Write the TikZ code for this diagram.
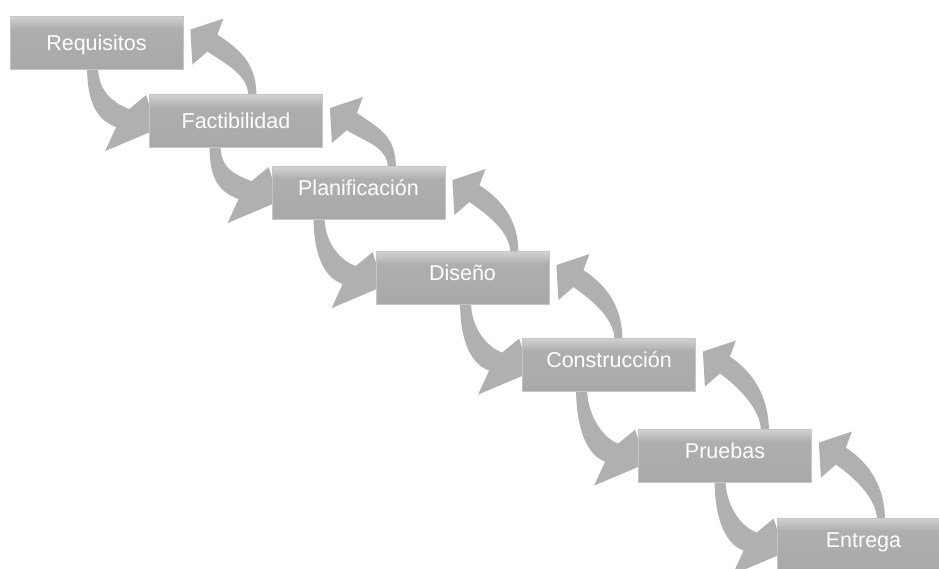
\documentclass[tikz,border=0pt]{standalone}
\usepackage{fontspec}
\setmainfont{Liberation Sans}
\usetikzlibrary{calc}

\pgfdeclarelayer{back}
\pgfsetlayers{back,main}

\definecolor{arrowgray}{HTML}{B0B0B0}
\definecolor{boxtop}{HTML}{D2D2D2}
\definecolor{boxmid}{HTML}{AEAEAE}
\definecolor{boxbot}{HTML}{A9A9A9}
\definecolor{boxline}{HTML}{C6C6C6}

% light band along the top edge of every box
\pgfdeclareverticalshading{boxshade}{100bp}{%
  color(0bp)=(boxbot); color(25bp)=(boxbot); color(63bp)=(boxmid);
  color(75bp)=(boxtop); color(100bp)=(boxtop)}

\tikzset{
  stepbox/.style={draw=boxline, line width=0.8pt, shading=boxshade,
    minimum width=173pt, minimum height=53pt, inner sep=0pt,
    text=white, font=\fontsize{21.5}{24}\selectfont,
    text height=17pt, text depth=2pt},
  lift/.style={text depth=12pt},
  flowarrow/.style={fill=arrowgray, draw=none},
}

% curved arrow from the bottom of #1 to the left side of #2
\newcommand\stepdown[2]{%
  \coordinate (nw) at (#2.north west);
  \coordinate (bt) at (#1.south);
  \fill[flowarrow]
    ($(nw |- bt)+(-62,-2)$) .. controls +(0,30) and +(-22,-8) .. ($(nw)+(-33,33)$)
    -- ($(nw)+(-44,57)$) -- ($(nw)+(8,35)$) -- ($(nw)+(-3,1)$)
    -- ($(nw)+(-20,15)$) .. controls +(-18,-7) and +(0,22) .. ($(nw |- bt)+(-51,-2)$)
    -- cycle;
}

% curved arrow from the top of #2 back to the right side of #1
\newcommand\stepup[2]{%
  \coordinate (ne) at (#1.north east);
  \coordinate (tp) at (#2.north);
  \fill[flowarrow]
    ($(ne |- tp)+(65,2)$) .. controls +(0,-22) and +(16,11) .. ($(ne)+(24,36)$)
    -- ($(ne)+(9,49)$) -- ($(ne)+(7,14)$) -- ($(ne)+(40,3)$)
    -- ($(ne)+(34,19)$) .. controls +(26,17) and +(0,-30) .. ($(ne |- tp)+(73,2)$)
    -- cycle;
}

\begin{document}
\begin{tikzpicture}[x=1pt, y=-1pt]
  \useasboundingbox (0,0) rectangle (939,568);
  \clip (0,0) rectangle (939,568);

  \node[stepbox]       (b1) at (96.5,42.5) {Requisitos};
  \node[stepbox]       (b2) at (236,121)   {Factibilidad};
  \node[stepbox,lift]  (b3) at (358.5,193) {Planificación};
  \node[stepbox,lift]  (b4) at (462.5,278) {Diseño};
  \node[stepbox,lift]  (b5) at (609,364.5) {Construcción};
  \node[stepbox,lift]  (b6) at (725,455.5) {Pruebas};
  \node[stepbox,lift]  (b7) at (863.5,544.5) {Entrega};

  \begin{pgfonlayer}{back}
    \stepdown{b1}{b2} \stepup{b1}{b2}
    \stepdown{b2}{b3} \stepup{b2}{b3}
    \stepdown{b3}{b4} \stepup{b3}{b4}
    \stepdown{b4}{b5} \stepup{b4}{b5}
    \stepdown{b5}{b6} \stepup{b5}{b6}
    \stepdown{b6}{b7} \stepup{b6}{b7}
  \end{pgfonlayer}
\end{tikzpicture}
\end{document}
